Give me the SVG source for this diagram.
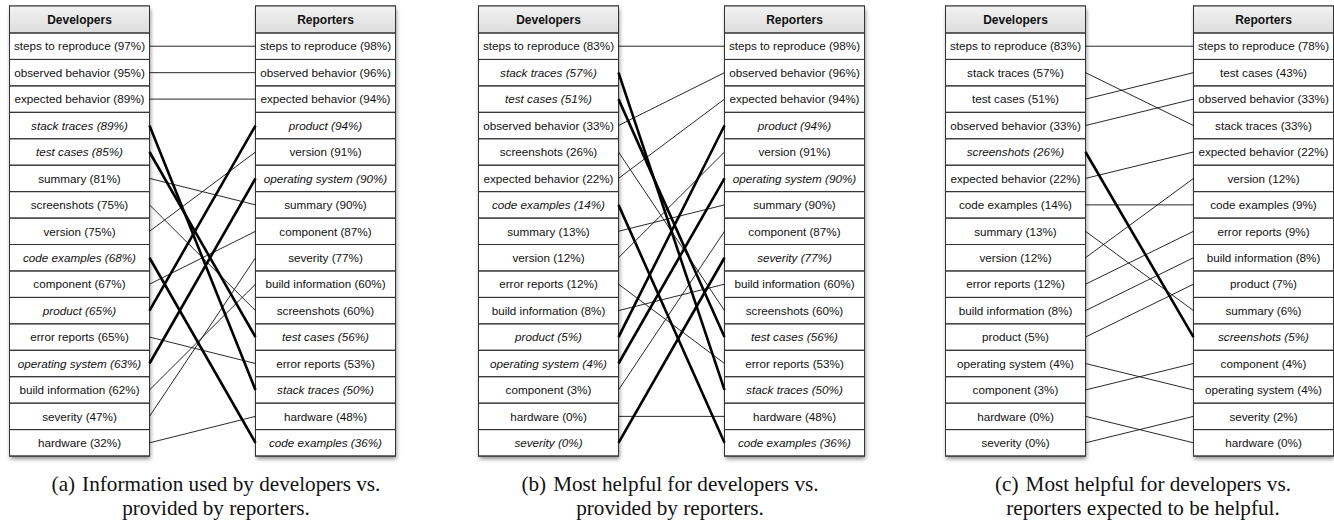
<svg xmlns="http://www.w3.org/2000/svg" width="1334" height="525" viewBox="0 0 1334 525">
<defs>
<linearGradient id="hg" x1="0" y1="0" x2="0" y2="1"><stop offset="0" stop-color="#f2f2f2"/><stop offset="1" stop-color="#dcdcdc"/></linearGradient>
<filter id="sh" x="-10%" y="-10%" width="120%" height="120%"><feGaussianBlur stdDeviation="2"/></filter>
<g id="frame">
<rect x="1" y="3" width="140" height="450" fill="#000" opacity="0.45" filter="url(#sh)"/>
<rect x="0" y="0" width="140" height="450.04" fill="#fff" stroke="#333" stroke-width="1"/>
<rect x="0" y="0" width="140" height="27" fill="url(#hg)" stroke="#333" stroke-width="1"/>
</g>
</defs>
<style>
.c{fill:none;stroke:#333;stroke-width:1}
.t{font-family:"Liberation Sans",Arial,sans-serif;font-size:11.7px;text-anchor:middle;fill:#111}
.i{font-style:italic}
.h{font-weight:bold;font-size:12px}
.thin{stroke:#111;stroke-width:0.9;fill:none}
.thick{stroke:#000;stroke-width:2.6;fill:none}
.cap{font-family:"Liberation Serif","Times New Roman",serif;font-size:21.2px;text-anchor:middle;fill:#111}
</style>

<!-- Panel (a) -->
<g id="a-dev" transform="translate(9.5,6)">
<use href="#frame"/>
<text class="t h" x="70" y="17.8">Developers</text>
<g transform="translate(0,-6)">
<g id="a-d0"><rect class="c" x="0" y="33" width="140" height="26.44"/><text class="t" x="70" y="50.4">steps to reproduce (97%)</text></g>
<g id="a-d1"><rect class="c" x="0" y="59.44" width="140" height="26.44"/><text class="t" x="70" y="76.9">observed behavior (95%)</text></g>
<g id="a-d2"><rect class="c" x="0" y="85.88" width="140" height="26.44"/><text class="t" x="70" y="103.3">expected behavior (89%)</text></g>
<g id="a-d3"><rect class="c" x="0" y="112.32" width="140" height="26.44"/><text class="t i" x="70" y="129.7">stack traces (89%)</text></g>
<g id="a-d4"><rect class="c" x="0" y="138.76" width="140" height="26.44"/><text class="t i" x="70" y="156.2">test cases (85%)</text></g>
<g id="a-d5"><rect class="c" x="0" y="165.2" width="140" height="26.44"/><text class="t" x="70" y="182.6">summary (81%)</text></g>
<g id="a-d6"><rect class="c" x="0" y="191.64" width="140" height="26.44"/><text class="t" x="70" y="209.1">screenshots (75%)</text></g>
<g id="a-d7"><rect class="c" x="0" y="218.08" width="140" height="26.44"/><text class="t" x="70" y="235.5">version (75%)</text></g>
<g id="a-d8"><rect class="c" x="0" y="244.52" width="140" height="26.44"/><text class="t i" x="70" y="261.9">code examples (68%)</text></g>
<g id="a-d9"><rect class="c" x="0" y="270.96" width="140" height="26.44"/><text class="t" x="70" y="288.4">component (67%)</text></g>
<g id="a-d10"><rect class="c" x="0" y="297.4" width="140" height="26.44"/><text class="t i" x="70" y="314.8">product (65%)</text></g>
<g id="a-d11"><rect class="c" x="0" y="323.84" width="140" height="26.44"/><text class="t" x="70" y="341.3">error reports (65%)</text></g>
<g id="a-d12"><rect class="c" x="0" y="350.28" width="140" height="26.44"/><text class="t i" x="70" y="367.7">operating system (63%)</text></g>
<g id="a-d13"><rect class="c" x="0" y="376.72" width="140" height="26.44"/><text class="t" x="70" y="394.1">build information (62%)</text></g>
<g id="a-d14"><rect class="c" x="0" y="403.16" width="140" height="26.44"/><text class="t" x="70" y="420.6">severity (47%)</text></g>
<g id="a-d15"><rect class="c" x="0" y="429.6" width="140" height="26.44"/><text class="t" x="70" y="447.0">hardware (32%)</text></g>
</g>
</g>

<g id="a-rep" transform="translate(255.5,6)">
<use href="#frame"/>
<text class="t h" x="70" y="17.8">Reporters</text>
<g transform="translate(0,-6)">
<g id="a-r0"><rect class="c" x="0" y="33" width="140" height="26.44"/><text class="t" x="70" y="50.4">steps to reproduce (98%)</text></g>
<g id="a-r1"><rect class="c" x="0" y="59.44" width="140" height="26.44"/><text class="t" x="70" y="76.9">observed behavior (96%)</text></g>
<g id="a-r2"><rect class="c" x="0" y="85.88" width="140" height="26.44"/><text class="t" x="70" y="103.3">expected behavior (94%)</text></g>
<g id="a-r3"><rect class="c" x="0" y="112.32" width="140" height="26.44"/><text class="t i" x="70" y="129.7">product (94%)</text></g>
<g id="a-r4"><rect class="c" x="0" y="138.76" width="140" height="26.44"/><text class="t" x="70" y="156.2">version (91%)</text></g>
<g id="a-r5"><rect class="c" x="0" y="165.2" width="140" height="26.44"/><text class="t i" x="70" y="182.6">operating system (90%)</text></g>
<g id="a-r6"><rect class="c" x="0" y="191.64" width="140" height="26.44"/><text class="t" x="70" y="209.1">summary (90%)</text></g>
<g id="a-r7"><rect class="c" x="0" y="218.08" width="140" height="26.44"/><text class="t" x="70" y="235.5">component (87%)</text></g>
<g id="a-r8"><rect class="c" x="0" y="244.52" width="140" height="26.44"/><text class="t" x="70" y="261.9">severity (77%)</text></g>
<g id="a-r9"><rect class="c" x="0" y="270.96" width="140" height="26.44"/><text class="t" x="70" y="288.4">build information (60%)</text></g>
<g id="a-r10"><rect class="c" x="0" y="297.4" width="140" height="26.44"/><text class="t" x="70" y="314.8">screenshots (60%)</text></g>
<g id="a-r11"><rect class="c" x="0" y="323.84" width="140" height="26.44"/><text class="t i" x="70" y="341.3">test cases (56%)</text></g>
<g id="a-r12"><rect class="c" x="0" y="350.28" width="140" height="26.44"/><text class="t" x="70" y="367.7">error reports (53%)</text></g>
<g id="a-r13"><rect class="c" x="0" y="376.72" width="140" height="26.44"/><text class="t i" x="70" y="394.1">stack traces (50%)</text></g>
<g id="a-r14"><rect class="c" x="0" y="403.16" width="140" height="26.44"/><text class="t" x="70" y="420.6">hardware (48%)</text></g>
<g id="a-r15"><rect class="c" x="0" y="429.6" width="140" height="26.44"/><text class="t i" x="70" y="447.0">code examples (36%)</text></g>
</g>
</g>

<!-- Panel (b) -->
<g id="b-dev" transform="translate(478.5,6)">
<use href="#frame"/>
<text class="t h" x="70" y="17.8">Developers</text>
<g transform="translate(0,-6)">
<g id="b-d0"><rect class="c" x="0" y="33" width="140" height="26.44"/><text class="t" x="70" y="50.4">steps to reproduce (83%)</text></g>
<g id="b-d1"><rect class="c" x="0" y="59.44" width="140" height="26.44"/><text class="t i" x="70" y="76.9">stack traces (57%)</text></g>
<g id="b-d2"><rect class="c" x="0" y="85.88" width="140" height="26.44"/><text class="t i" x="70" y="103.3">test cases (51%)</text></g>
<g id="b-d3"><rect class="c" x="0" y="112.32" width="140" height="26.44"/><text class="t" x="70" y="129.7">observed behavior (33%)</text></g>
<g id="b-d4"><rect class="c" x="0" y="138.76" width="140" height="26.44"/><text class="t" x="70" y="156.2">screenshots (26%)</text></g>
<g id="b-d5"><rect class="c" x="0" y="165.2" width="140" height="26.44"/><text class="t" x="70" y="182.6">expected behavior (22%)</text></g>
<g id="b-d6"><rect class="c" x="0" y="191.64" width="140" height="26.44"/><text class="t i" x="70" y="209.1">code examples (14%)</text></g>
<g id="b-d7"><rect class="c" x="0" y="218.08" width="140" height="26.44"/><text class="t" x="70" y="235.5">summary (13%)</text></g>
<g id="b-d8"><rect class="c" x="0" y="244.52" width="140" height="26.44"/><text class="t" x="70" y="261.9">version (12%)</text></g>
<g id="b-d9"><rect class="c" x="0" y="270.96" width="140" height="26.44"/><text class="t" x="70" y="288.4">error reports (12%)</text></g>
<g id="b-d10"><rect class="c" x="0" y="297.4" width="140" height="26.44"/><text class="t" x="70" y="314.8">build information (8%)</text></g>
<g id="b-d11"><rect class="c" x="0" y="323.84" width="140" height="26.44"/><text class="t i" x="70" y="341.3">product (5%)</text></g>
<g id="b-d12"><rect class="c" x="0" y="350.28" width="140" height="26.44"/><text class="t i" x="70" y="367.7">operating system (4%)</text></g>
<g id="b-d13"><rect class="c" x="0" y="376.72" width="140" height="26.44"/><text class="t" x="70" y="394.1">component (3%)</text></g>
<g id="b-d14"><rect class="c" x="0" y="403.16" width="140" height="26.44"/><text class="t" x="70" y="420.6">hardware (0%)</text></g>
<g id="b-d15"><rect class="c" x="0" y="429.6" width="140" height="26.44"/><text class="t i" x="70" y="447.0">severity (0%)</text></g>
</g>
</g>

<g id="b-rep" transform="translate(724.5,6)">
<use href="#frame"/>
<text class="t h" x="70" y="17.8">Reporters</text>
<g transform="translate(0,-6)">
<g id="b-r0"><rect class="c" x="0" y="33" width="140" height="26.44"/><text class="t" x="70" y="50.4">steps to reproduce (98%)</text></g>
<g id="b-r1"><rect class="c" x="0" y="59.44" width="140" height="26.44"/><text class="t" x="70" y="76.9">observed behavior (96%)</text></g>
<g id="b-r2"><rect class="c" x="0" y="85.88" width="140" height="26.44"/><text class="t" x="70" y="103.3">expected behavior (94%)</text></g>
<g id="b-r3"><rect class="c" x="0" y="112.32" width="140" height="26.44"/><text class="t i" x="70" y="129.7">product (94%)</text></g>
<g id="b-r4"><rect class="c" x="0" y="138.76" width="140" height="26.44"/><text class="t" x="70" y="156.2">version (91%)</text></g>
<g id="b-r5"><rect class="c" x="0" y="165.2" width="140" height="26.44"/><text class="t i" x="70" y="182.6">operating system (90%)</text></g>
<g id="b-r6"><rect class="c" x="0" y="191.64" width="140" height="26.44"/><text class="t" x="70" y="209.1">summary (90%)</text></g>
<g id="b-r7"><rect class="c" x="0" y="218.08" width="140" height="26.44"/><text class="t" x="70" y="235.5">component (87%)</text></g>
<g id="b-r8"><rect class="c" x="0" y="244.52" width="140" height="26.44"/><text class="t i" x="70" y="261.9">severity (77%)</text></g>
<g id="b-r9"><rect class="c" x="0" y="270.96" width="140" height="26.44"/><text class="t" x="70" y="288.4">build information (60%)</text></g>
<g id="b-r10"><rect class="c" x="0" y="297.4" width="140" height="26.44"/><text class="t" x="70" y="314.8">screenshots (60%)</text></g>
<g id="b-r11"><rect class="c" x="0" y="323.84" width="140" height="26.44"/><text class="t i" x="70" y="341.3">test cases (56%)</text></g>
<g id="b-r12"><rect class="c" x="0" y="350.28" width="140" height="26.44"/><text class="t" x="70" y="367.7">error reports (53%)</text></g>
<g id="b-r13"><rect class="c" x="0" y="376.72" width="140" height="26.44"/><text class="t i" x="70" y="394.1">stack traces (50%)</text></g>
<g id="b-r14"><rect class="c" x="0" y="403.16" width="140" height="26.44"/><text class="t" x="70" y="420.6">hardware (48%)</text></g>
<g id="b-r15"><rect class="c" x="0" y="429.6" width="140" height="26.44"/><text class="t i" x="70" y="447.0">code examples (36%)</text></g>
</g>
</g>

<!-- Panel (c) -->
<g id="c-dev" transform="translate(945.5,6)">
<use href="#frame"/>
<text class="t h" x="70" y="17.8">Developers</text>
<g transform="translate(0,-6)">
<g id="c-d0"><rect class="c" x="0" y="33" width="140" height="26.44"/><text class="t" x="70" y="50.4">steps to reproduce (83%)</text></g>
<g id="c-d1"><rect class="c" x="0" y="59.44" width="140" height="26.44"/><text class="t" x="70" y="76.9">stack traces (57%)</text></g>
<g id="c-d2"><rect class="c" x="0" y="85.88" width="140" height="26.44"/><text class="t" x="70" y="103.3">test cases (51%)</text></g>
<g id="c-d3"><rect class="c" x="0" y="112.32" width="140" height="26.44"/><text class="t" x="70" y="129.7">observed behavior (33%)</text></g>
<g id="c-d4"><rect class="c" x="0" y="138.76" width="140" height="26.44"/><text class="t i" x="70" y="156.2">screenshots (26%)</text></g>
<g id="c-d5"><rect class="c" x="0" y="165.2" width="140" height="26.44"/><text class="t" x="70" y="182.6">expected behavior (22%)</text></g>
<g id="c-d6"><rect class="c" x="0" y="191.64" width="140" height="26.44"/><text class="t" x="70" y="209.1">code examples (14%)</text></g>
<g id="c-d7"><rect class="c" x="0" y="218.08" width="140" height="26.44"/><text class="t" x="70" y="235.5">summary (13%)</text></g>
<g id="c-d8"><rect class="c" x="0" y="244.52" width="140" height="26.44"/><text class="t" x="70" y="261.9">version (12%)</text></g>
<g id="c-d9"><rect class="c" x="0" y="270.96" width="140" height="26.44"/><text class="t" x="70" y="288.4">error reports (12%)</text></g>
<g id="c-d10"><rect class="c" x="0" y="297.4" width="140" height="26.44"/><text class="t" x="70" y="314.8">build information (8%)</text></g>
<g id="c-d11"><rect class="c" x="0" y="323.84" width="140" height="26.44"/><text class="t" x="70" y="341.3">product (5%)</text></g>
<g id="c-d12"><rect class="c" x="0" y="350.28" width="140" height="26.44"/><text class="t" x="70" y="367.7">operating system (4%)</text></g>
<g id="c-d13"><rect class="c" x="0" y="376.72" width="140" height="26.44"/><text class="t" x="70" y="394.1">component (3%)</text></g>
<g id="c-d14"><rect class="c" x="0" y="403.16" width="140" height="26.44"/><text class="t" x="70" y="420.6">hardware (0%)</text></g>
<g id="c-d15"><rect class="c" x="0" y="429.6" width="140" height="26.44"/><text class="t" x="70" y="447.0">severity (0%)</text></g>
</g>
</g>

<g id="c-rep" transform="translate(1193.5,6)">
<use href="#frame"/>
<text class="t h" x="70" y="17.8">Reporters</text>
<g transform="translate(0,-6)">
<g id="c-r0"><rect class="c" x="0" y="33" width="140" height="26.44"/><text class="t" x="70" y="50.4">steps to reproduce (78%)</text></g>
<g id="c-r1"><rect class="c" x="0" y="59.44" width="140" height="26.44"/><text class="t" x="70" y="76.9">test cases (43%)</text></g>
<g id="c-r2"><rect class="c" x="0" y="85.88" width="140" height="26.44"/><text class="t" x="70" y="103.3">observed behavior (33%)</text></g>
<g id="c-r3"><rect class="c" x="0" y="112.32" width="140" height="26.44"/><text class="t" x="70" y="129.7">stack traces (33%)</text></g>
<g id="c-r4"><rect class="c" x="0" y="138.76" width="140" height="26.44"/><text class="t" x="70" y="156.2">expected behavior (22%)</text></g>
<g id="c-r5"><rect class="c" x="0" y="165.2" width="140" height="26.44"/><text class="t" x="70" y="182.6">version (12%)</text></g>
<g id="c-r6"><rect class="c" x="0" y="191.64" width="140" height="26.44"/><text class="t" x="70" y="209.1">code examples (9%)</text></g>
<g id="c-r7"><rect class="c" x="0" y="218.08" width="140" height="26.44"/><text class="t" x="70" y="235.5">error reports (9%)</text></g>
<g id="c-r8"><rect class="c" x="0" y="244.52" width="140" height="26.44"/><text class="t" x="70" y="261.9">build information (8%)</text></g>
<g id="c-r9"><rect class="c" x="0" y="270.96" width="140" height="26.44"/><text class="t" x="70" y="288.4">product (7%)</text></g>
<g id="c-r10"><rect class="c" x="0" y="297.4" width="140" height="26.44"/><text class="t" x="70" y="314.8">summary (6%)</text></g>
<g id="c-r11"><rect class="c" x="0" y="323.84" width="140" height="26.44"/><text class="t i" x="70" y="341.3">screenshots (5%)</text></g>
<g id="c-r12"><rect class="c" x="0" y="350.28" width="140" height="26.44"/><text class="t" x="70" y="367.7">component (4%)</text></g>
<g id="c-r13"><rect class="c" x="0" y="376.72" width="140" height="26.44"/><text class="t" x="70" y="394.1">operating system (4%)</text></g>
<g id="c-r14"><rect class="c" x="0" y="403.16" width="140" height="26.44"/><text class="t" x="70" y="420.6">severity (2%)</text></g>
<g id="c-r15"><rect class="c" x="0" y="429.6" width="140" height="26.44"/><text class="t" x="70" y="447.0">hardware (0%)</text></g>
</g>
</g>

<g id="connectors">
<!-- (a) -->
<line class="thin" x1="149.5" y1="46.22" x2="255.5" y2="46.22"/>
<line class="thin" x1="149.5" y1="72.66" x2="255.5" y2="72.66"/>
<line class="thin" x1="149.5" y1="99.1" x2="255.5" y2="99.1"/>
<line class="thin" x1="149.5" y1="178.42" x2="255.5" y2="204.86"/>
<line class="thin" x1="149.5" y1="204.86" x2="255.5" y2="310.62"/>
<line class="thin" x1="149.5" y1="231.3" x2="255.5" y2="151.98"/>
<line class="thin" x1="149.5" y1="284.18" x2="255.5" y2="231.3"/>
<line class="thin" x1="149.5" y1="337.06" x2="255.5" y2="363.5"/>
<line class="thin" x1="149.5" y1="389.94" x2="255.5" y2="284.18"/>
<line class="thin" x1="149.5" y1="416.38" x2="255.5" y2="257.74"/>
<line class="thin" x1="149.5" y1="442.82" x2="255.5" y2="416.38"/>
<line class="thick" x1="149.5" y1="125.54" x2="255.5" y2="389.94"/>
<line class="thick" x1="149.5" y1="151.98" x2="255.5" y2="337.06"/>
<line class="thick" x1="149.5" y1="257.74" x2="255.5" y2="442.82"/>
<line class="thick" x1="149.5" y1="310.62" x2="255.5" y2="125.54"/>
<line class="thick" x1="149.5" y1="363.5" x2="255.5" y2="178.42"/>
<!-- (b) -->
<line class="thin" x1="618.5" y1="46.22" x2="724.5" y2="46.22"/>
<line class="thin" x1="618.5" y1="125.54" x2="724.5" y2="72.66"/>
<line class="thin" x1="618.5" y1="151.98" x2="724.5" y2="310.62"/>
<line class="thin" x1="618.5" y1="178.42" x2="724.5" y2="99.1"/>
<line class="thin" x1="618.5" y1="231.3" x2="724.5" y2="204.86"/>
<line class="thin" x1="618.5" y1="257.74" x2="724.5" y2="151.98"/>
<line class="thin" x1="618.5" y1="284.18" x2="724.5" y2="363.5"/>
<line class="thin" x1="618.5" y1="310.62" x2="724.5" y2="284.18"/>
<line class="thin" x1="618.5" y1="389.94" x2="724.5" y2="231.3"/>
<line class="thin" x1="618.5" y1="416.38" x2="724.5" y2="416.38"/>
<line class="thick" x1="618.5" y1="72.66" x2="724.5" y2="389.94"/>
<line class="thick" x1="618.5" y1="99.1" x2="724.5" y2="337.06"/>
<line class="thick" x1="618.5" y1="204.86" x2="724.5" y2="442.82"/>
<line class="thick" x1="618.5" y1="337.06" x2="724.5" y2="125.54"/>
<line class="thick" x1="618.5" y1="363.5" x2="724.5" y2="178.42"/>
<line class="thick" x1="618.5" y1="442.82" x2="724.5" y2="257.74"/>
<!-- (c) -->
<line class="thin" x1="1085.5" y1="46.22" x2="1193.5" y2="46.22"/>
<line class="thin" x1="1085.5" y1="72.66" x2="1193.5" y2="125.54"/>
<line class="thin" x1="1085.5" y1="99.1" x2="1193.5" y2="72.66"/>
<line class="thin" x1="1085.5" y1="125.54" x2="1193.5" y2="99.1"/>
<line class="thin" x1="1085.5" y1="178.42" x2="1193.5" y2="151.98"/>
<line class="thin" x1="1085.5" y1="204.86" x2="1193.5" y2="204.86"/>
<line class="thin" x1="1085.5" y1="231.3" x2="1193.5" y2="310.62"/>
<line class="thin" x1="1085.5" y1="257.74" x2="1193.5" y2="178.42"/>
<line class="thin" x1="1085.5" y1="284.18" x2="1193.5" y2="231.3"/>
<line class="thin" x1="1085.5" y1="310.62" x2="1193.5" y2="257.74"/>
<line class="thin" x1="1085.5" y1="337.06" x2="1193.5" y2="284.18"/>
<line class="thin" x1="1085.5" y1="363.5" x2="1193.5" y2="389.94"/>
<line class="thin" x1="1085.5" y1="389.94" x2="1193.5" y2="363.5"/>
<line class="thin" x1="1085.5" y1="416.38" x2="1193.5" y2="442.82"/>
<line class="thin" x1="1085.5" y1="442.82" x2="1193.5" y2="416.38"/>
<line class="thick" x1="1085.5" y1="151.98" x2="1193.5" y2="337.06"/>
</g>

<g id="captions">
<text class="cap" x="216" y="491">(a)<tspan dx="7">Information used by developers vs.</tspan></text>
<text class="cap" x="216" y="515">provided by reporters.</text>
<text class="cap" x="670" y="491">(b)<tspan dx="7">Most helpful for developers vs.</tspan></text>
<text class="cap" x="670" y="515">provided by reporters.</text>
<text class="cap" x="1143" y="491">(c)<tspan dx="7">Most helpful for developers vs.</tspan></text>
<text class="cap" x="1143" y="515">reporters expected to be helpful.</text>
</g>
</svg>
